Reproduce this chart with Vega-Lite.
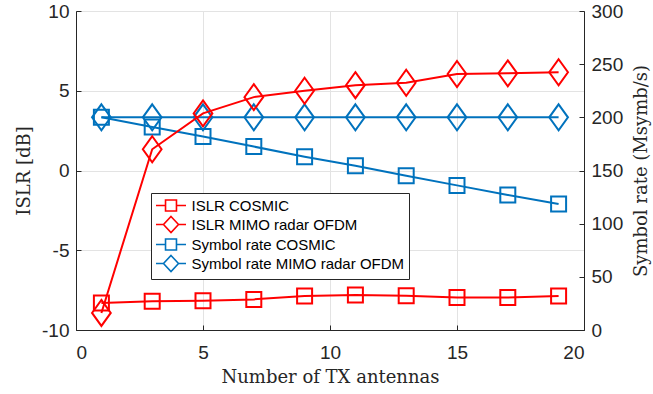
{
  "$schema": "https://vega.github.io/schema/vega-lite/v6.json",
  "width": 508,
  "height": 319,
  "autosize": "none",
  "padding": {"left": 76, "top": 11, "right": 69, "bottom": 64},
  "background": "white",
  "config": {
    "view": {"stroke": "#262626", "strokeWidth": 1},
    "axis": {
      "domainColor": "#262626",
      "tickColor": "#262626",
      "labelColor": "#262626",
      "titleColor": "#262626",
      "labelFont": "Liberation Sans",
      "labelFontSize": 19,
      "titleFont": "DejaVu Serif",
      "titleFontSize": 18,
      "titleFontWeight": "normal",
      "tickSize": -5,
      "gridColor": "#e3e3e3",
      "gridWidth": 1,
      "labelExpr": "datum.value + ''"
    }
  },
  "datasets": {
    "islr": [
      {"n": 1, "series": "ISLR COSMIC", "v": -8.3},
      {"n": 3, "series": "ISLR COSMIC", "v": -8.2},
      {"n": 5, "series": "ISLR COSMIC", "v": -8.16},
      {"n": 7, "series": "ISLR COSMIC", "v": -8.08},
      {"n": 9, "series": "ISLR COSMIC", "v": -7.87},
      {"n": 11, "series": "ISLR COSMIC", "v": -7.8},
      {"n": 13, "series": "ISLR COSMIC", "v": -7.85},
      {"n": 15, "series": "ISLR COSMIC", "v": -7.97},
      {"n": 17, "series": "ISLR COSMIC", "v": -7.97},
      {"n": 19, "series": "ISLR COSMIC", "v": -7.87},
      {"n": 1, "series": "ISLR MIMO radar OFDM", "v": -8.93},
      {"n": 3, "series": "ISLR MIMO radar OFDM", "v": 1.33},
      {"n": 5, "series": "ISLR MIMO radar OFDM", "v": 3.58},
      {"n": 7, "series": "ISLR MIMO radar OFDM", "v": 4.6},
      {"n": 9, "series": "ISLR MIMO radar OFDM", "v": 5.0},
      {"n": 11, "series": "ISLR MIMO radar OFDM", "v": 5.35},
      {"n": 13, "series": "ISLR MIMO radar OFDM", "v": 5.5},
      {"n": 15, "series": "ISLR MIMO radar OFDM", "v": 6.05},
      {"n": 17, "series": "ISLR MIMO radar OFDM", "v": 6.09},
      {"n": 19, "series": "ISLR MIMO radar OFDM", "v": 6.16}
    ],
    "rate": [
      {"n": 1, "series": "Symbol rate COSMIC", "v": 200},
      {"n": 3, "series": "Symbol rate COSMIC", "v": 191},
      {"n": 5, "series": "Symbol rate COSMIC", "v": 182},
      {"n": 7, "series": "Symbol rate COSMIC", "v": 172.5},
      {"n": 9, "series": "Symbol rate COSMIC", "v": 163},
      {"n": 11, "series": "Symbol rate COSMIC", "v": 154.5},
      {"n": 13, "series": "Symbol rate COSMIC", "v": 145},
      {"n": 15, "series": "Symbol rate COSMIC", "v": 136},
      {"n": 17, "series": "Symbol rate COSMIC", "v": 127},
      {"n": 19, "series": "Symbol rate COSMIC", "v": 118.5},
      {"n": 1, "series": "Symbol rate MIMO radar OFDM", "v": 200},
      {"n": 3, "series": "Symbol rate MIMO radar OFDM", "v": 200},
      {"n": 5, "series": "Symbol rate MIMO radar OFDM", "v": 200},
      {"n": 7, "series": "Symbol rate MIMO radar OFDM", "v": 200},
      {"n": 9, "series": "Symbol rate MIMO radar OFDM", "v": 200},
      {"n": 11, "series": "Symbol rate MIMO radar OFDM", "v": 200},
      {"n": 13, "series": "Symbol rate MIMO radar OFDM", "v": 200},
      {"n": 15, "series": "Symbol rate MIMO radar OFDM", "v": 200},
      {"n": 17, "series": "Symbol rate MIMO radar OFDM", "v": 200},
      {"n": 19, "series": "Symbol rate MIMO radar OFDM", "v": 200}
    ]
  },
  "encoding": {
    "x": {
      "field": "n",
      "type": "quantitative",
      "scale": {"domain": [0, 20], "nice": false},
      "axis": {
        "title": "Number of TX antennas",
        "values": [0, 5, 10, 15, 20],
        "labelPadding": 18,
        "titlePadding": 6,
        "grid": true
      }
    },
    "color": {
      "field": "series",
      "type": "nominal",
      "scale": {
        "domain": ["ISLR COSMIC", "ISLR MIMO radar OFDM", "Symbol rate COSMIC", "Symbol rate MIMO radar OFDM"],
        "range": ["#ff0000", "#ff0000", "#0072bd", "#0072bd"]
      },
      "legend": {
        "title": null,
        "orient": "none",
        "legendX": 75,
        "legendY": 182,
        "fillColor": "white",
        "strokeColor": "#262626",
        "padding": 4,
        "labelFont": "Liberation Sans",
        "labelFontSize": 15,
        "labelColor": "#000000",
        "labelLimit": 400,
        "labelOffset": 12,
        "symbolOffset": 7.5,
        "symbolSize": 225,
        "symbolStrokeWidth": 1.6,
        "rowPadding": -2,
        "symbolType": "M-2,0H2",
        "encode": {
          "symbols": {
            "update": {
              "shape": {"signal": "indexof(datum.value, 'COSMIC') >= 0 ? 'M-2,0L-0.73,0M0.73,0L2,0M-0.73,-0.73L0.73,-0.73L0.73,0.73L-0.73,0.73Z' : 'M-2,0L-1,0M1,0L2,0M0,-1.07L1,0L0,1.07L-1,0Z'"},
              "fill": {"value": "transparent"},
              "stroke": {"scale": "color", "field": "value"},
              "strokeWidth": {"value": 1.6}
            }
          }
        }
      }
    }
  },
  "layer": [
    {
      "data": {"name": "rate"},
      "encoding": {
        "y": {
          "field": "v",
          "type": "quantitative",
          "scale": {"domain": [0, 300], "nice": false},
          "axis": {
            "orient": "right",
            "title": "Symbol rate (Msymb/s)",
            "titleAngle": 270,
            "values": [0, 50, 100, 150, 200, 250, 300],
            "labelPadding": 12,
            "titlePadding": 28,
            "grid": false
          }
        }
      },
      "layer": [
        {"mark": {"type": "line", "strokeWidth": 2}},
        {"transform": [{"filter": "indexof(datum.series, 'COSMIC') >= 0"}], "mark": {"type": "point", "shape": "square", "size": 225, "filled": false, "strokeWidth": 2, "opacity": 1}},
        {"transform": [{"filter": "indexof(datum.series, 'COSMIC') < 0"}], "mark": {"type": "point", "shape": "M0,-1L0.72,0L0,1L-0.72,0Z", "size": 676, "filled": false, "strokeWidth": 2, "opacity": 1}}
      ]
    },
    {
      "data": {"name": "islr"},
      "encoding": {
        "y": {
          "field": "v",
          "type": "quantitative",
          "scale": {"domain": [-10, 10], "nice": false},
          "axis": {
            "orient": "left",
            "title": "ISLR [dB]",
            "values": [-10, -5, 0, 5, 10],
            "labelPadding": 12,
            "titlePadding": 8,
            "grid": true
          }
        }
      },
      "layer": [
        {"mark": {"type": "line", "strokeWidth": 2}},
        {"transform": [{"filter": "indexof(datum.series, 'COSMIC') >= 0"}], "mark": {"type": "point", "shape": "square", "size": 225, "filled": false, "strokeWidth": 2, "opacity": 1}},
        {"transform": [{"filter": "indexof(datum.series, 'COSMIC') < 0"}], "mark": {"type": "point", "shape": "M0,-1L0.72,0L0,1L-0.72,0Z", "size": 676, "filled": false, "strokeWidth": 2, "opacity": 1}}
      ]
    }
  ],
  "resolve": {"scale": {"y": "independent"}}
}
